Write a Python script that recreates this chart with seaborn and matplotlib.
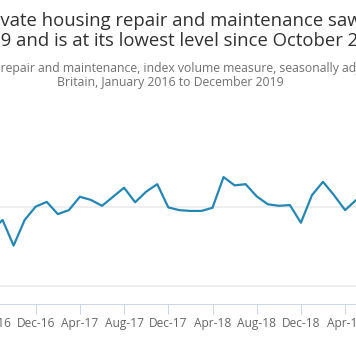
import matplotlib
matplotlib.use("Agg")
import matplotlib.pyplot as plt
import seaborn as sns
import pandas as pd
import numpy as np

# ---- data ----
month_labels = [d.strftime("%b-%y") for d in pd.date_range("2016-01-01", "2019-12-01", freq="MS")]
values_2016 = [100.5, 101.0, 100.6, 101.4, 101.8, 101.0, 100.0, 97.0, 98.35, 95.1, 98.35, 100.05]
values_2017 = [100.65, 99.1, 99.6, 101.3, 100.9, 100.15, 101.3, 102.45, 100.6, 101.95, 102.9, 99.95]
values_2018 = [99.6, 99.5, 99.5, 99.9, 103.8, 102.75, 102.9, 101.35, 100.35, 100.15, 100.25, 98.0]
values_2019 = [101.5, 103.2, 101.5, 99.6, 100.9, 100.2, 101.0, 99.6, 100.3, 99.1, 98.6, 96.0]
values = values_2016 + values_2017 + values_2018 + values_2019
tick_months = ["Apr-16", "Aug-16", "Dec-16", "Apr-17", "Aug-17", "Dec-17", "Apr-18",
               "Aug-18", "Dec-18", "Apr-19", "Aug-19", "Dec-19"]
y_ticks = [90, 100]

title_lines = ["Private housing repair and maintenance saw a fall in December",
               "2019 and is at its lowest level since October 2016"]
subtitle_lines = ["Private housing repair and maintenance, index volume measure, seasonally adjusted, Great",
                  "Britain, January 2016 to December 2019"]

df = pd.DataFrame({"idx": np.arange(len(values)), "month": month_labels, "value": values})

# ---- style ----
sns.set_theme(style="white")
plt.rcParams["font.family"] = ["Open Sans", "DejaVu Sans"]

W, H, DPI = 356, 364, 100
fig = plt.figure(figsize=(W / DPI, H / DPI), dpi=DPI)
fig.patch.set_facecolor("white")

# axes extending beyond the visible figure (cropped view)
px_per_month = 11.05
x_dec16 = 35.7
xlo, xhi = -1, 48
left_px = x_dec16 + (xlo - 11) * px_per_month
right_px = x_dec16 + (xhi - 11) * px_per_month
y100_px = 207.0
px_per_unit = 7.87
bottom_px, top_px = 304.0, 150.0
ylo = 100 - (bottom_px - y100_px) / px_per_unit
yhi = 100 + (y100_px - top_px) / px_per_unit

ax = fig.add_axes([left_px / W, (H - bottom_px) / H, (right_px - left_px) / W, (bottom_px - top_px) / H])
ax.set_facecolor("white")

sns.lineplot(data=df, x="idx", y="value", ax=ax, color="#2487b3", linewidth=1.6, zorder=3)

ax.set_xlim(xlo, xhi)
ax.set_ylim(ylo, yhi)
ax.set_xlabel("")
ax.set_ylabel("")

tick_pos = [month_labels.index(m) for m in tick_months]
ax.set_xticks(tick_pos)
ax.set_xticklabels(tick_months, fontsize=8.6, color="#666666")
ax.set_yticks(y_ticks)
ax.set_yticklabels([str(v) for v in y_ticks], fontsize=8.6, color="#666666")
ax.tick_params(axis="x", length=7.2, width=0.75, color="#ccd6eb", pad=2.5, bottom=True)
ax.tick_params(axis="y", length=0)
ax.yaxis.grid(True, color="#ebebeb", linewidth=1.2)
ax.xaxis.grid(False)
for s in ["top", "right", "left"]:
    ax.spines[s].set_visible(False)
ax.spines["bottom"].set_color("#ccd6eb")
ax.spines["bottom"].set_linewidth(0.75)

# ---- titles (positioned so the visible portion matches the crop) ----
renderer = fig.canvas.get_renderer()

def place(text, prefix, x_px, baseline_px, size, color):
    w = 0.0
    if prefix:
        t = fig.text(0, 0, prefix, fontsize=size)
        w = t.get_window_extent(renderer).width
        t.remove()
    fig.text((x_px - w) / W, 1 - baseline_px / H, text, fontsize=size, color=color,
             ha="left", va="baseline")

place(title_lines[0], "Pri", 0.3, 25.5, 13.35, "#323132")
place(title_lines[1], "201", 0.5, 46.0, 13.35, "#323132")
place(subtitle_lines[0], "Private housing ", 0.3, 71.7, 8.8, "#707070")
place(subtitle_lines[1], "", 56.8, 86.0, 8.8, "#707070")

fig.savefig("out.png", dpi=DPI, facecolor="white")
